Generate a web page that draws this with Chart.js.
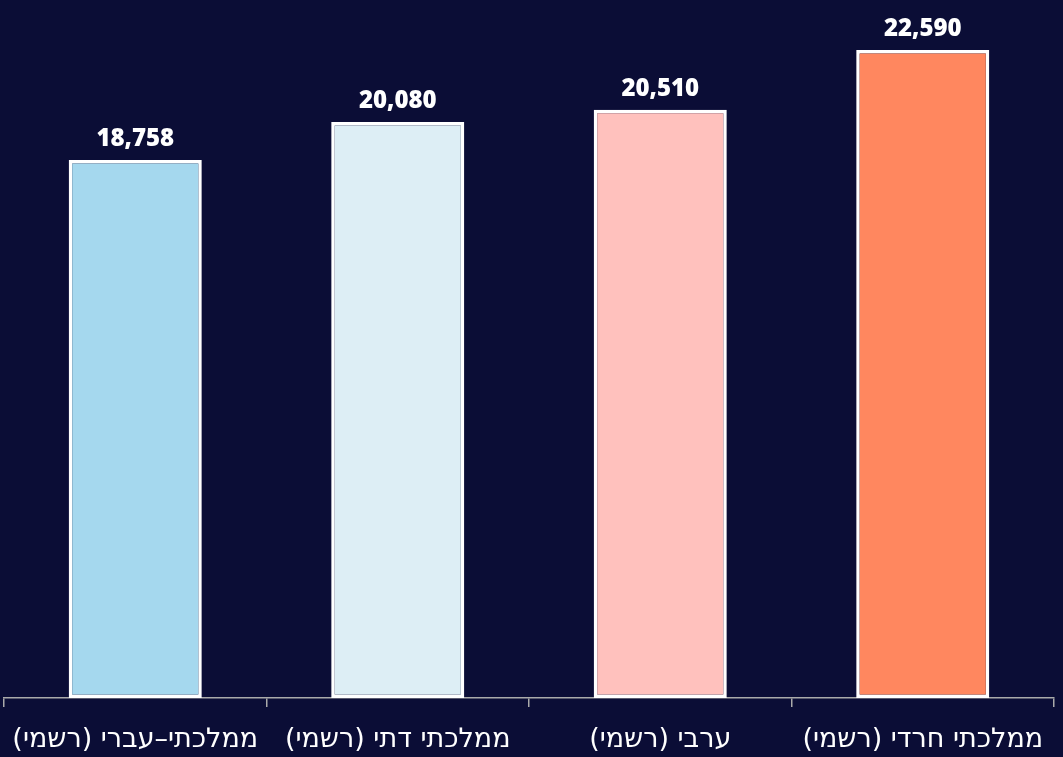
<!DOCTYPE html>
<html>
<head>
<meta charset="utf-8">
<script src="https://cdn.jsdelivr.net/npm/chart.js@4"></script>
<style>
  html, body { margin: 0; padding: 0; background: #0b0d36; }
  canvas { display: block; }
</style>
</head>
<body>
<canvas id="barChart" width="1063" height="757" dir="rtl"></canvas>
<script>
const categories = ['ממלכתי–עברי (רשמי)', 'ממלכתי דתי (רשמי)', 'ערבי (רשמי)', 'ממלכתי חרדי (רשמי)'];
const values = [18758, 20080, 20510, 22590];
const barColors = ['#a5d8ee', '#ddeef5', '#ffc1bd', '#ff875f'];

// draws the number above each bar
const valueLabels = {
    id: 'valueLabels',
    afterDatasetsDraw(chart) {
        const ctx = chart.ctx;
        const meta = chart.getDatasetMeta(0);
        ctx.save();
        ctx.direction = 'ltr';
        ctx.fillStyle = '#ffffff';
        ctx.font = '800 24px "Open Sans"';
        ctx.textAlign = 'center';
        ctx.textBaseline = 'bottom';
        meta.data.forEach((bar, i) => {
            ctx.fillText(values[i].toLocaleString('en-US'), bar.x, bar.y - 9);
        });
        ctx.restore();
    }
};

const ctx = document.getElementById('barChart').getContext('2d');

const chart = new Chart(ctx, {
    type: 'bar',
    data: {
        labels: categories,
        datasets: [{
            data: values,
            backgroundColor: barColors,
            borderColor: '#ffffff',
            borderWidth: 3.5,
            borderSkipped: false,
            barPercentage: 0.507,
            categoryPercentage: 1
        }]
    },
    options: {
        responsive: false,
        animation: false,
        layout: {
            padding: { top: 50, left: 4, right: 9, bottom: 3 }
        },
        plugins: {
            legend: { display: false },
            tooltip: { enabled: false }
        },
        scales: {
            x: {
                afterFit: (scale) => {
                    scale.height = 56;
                    scale.paddingLeft = 0;
                    scale.paddingRight = 0;
                },
                grid: {
                    display: true,
                    offset: true,
                    drawOnChartArea: false,
                    drawTicks: true,
                    tickLength: 9,
                    color: '#aaaaaa',
                    lineWidth: 1.5
                },
                border: { display: true, color: '#aaaaaa', width: 1.5 },
                ticks: {
                    color: '#ffffff',
                    padding: 17,
                    maxRotation: 0,
                    font: { family: '"DejaVu Sans"', size: 27 }
                }
            },
            y: {
                display: false,
                min: 0,
                max: 22590
            }
        }
    },
    plugins: [valueLabels]
});
</script>
</body>
</html>
